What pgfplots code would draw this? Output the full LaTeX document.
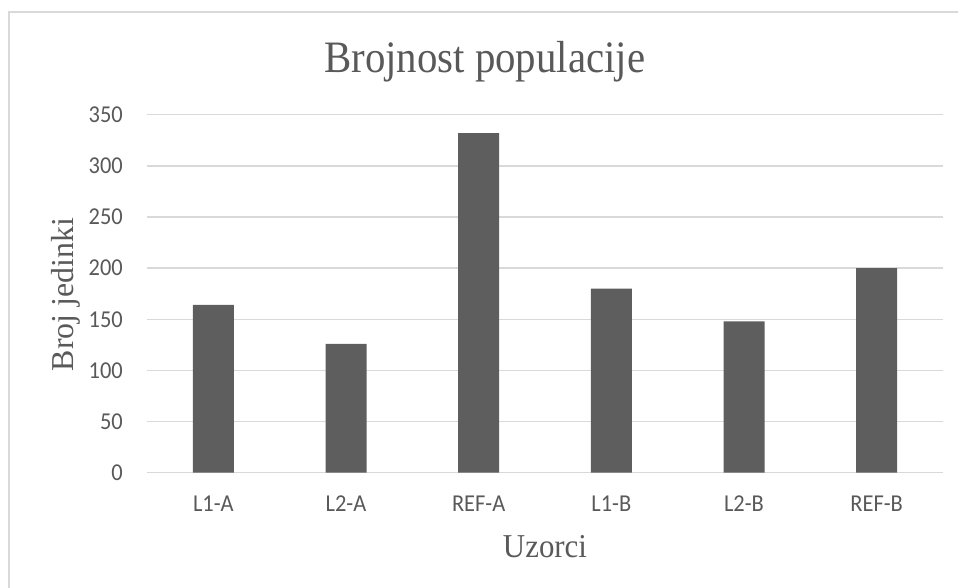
\documentclass[border=0pt]{standalone}
\usepackage{fontspec}
\setmainfont{Liberation Serif}
\newfontfamily\carlito{Carlito}
\usepackage{pgfplots}
\pgfplotsset{compat=1.18}

\definecolor{barfill}{HTML}{5E5E5E}
\definecolor{gridc}{HTML}{D9D9D9}
\definecolor{txt}{HTML}{595959}

\begin{document}
\begin{tikzpicture}
\useasboundingbox (0,0) rectangle (958bp,588bp);
% chart area frame (only top and left edges are inside the picture)
\draw[gridc, line width=1.5bp] (9bp,-20bp) -- (9bp,576bp) -- (980bp,576bp);

\begin{axis}[
    at={(147bp,115.3bp)}, anchor=south west,
    scale only axis,
    width=796bp, height=358bp,
    xmin=-0.5, xmax=5.5,
    ymin=0, ymax=350,
    ytick={0,50,...,350},
    xtick=data,
    xticklabels={L1-A, L2-A, REF-A, L1-B, L2-B, REF-B},
    axis line style={draw=none},
    major tick length=0pt,
    ymajorgrids,
    grid style={gridc, line width=1.5bp},
    /pgf/number format/assume math mode=true,
    tick label style={font=\fontsize{22.5}{26}\carlito, text=txt, inner sep=0pt, yscale=1.08},
    yticklabel style={anchor=east, xshift=-24bp},
    xticklabel style={anchor=north, yshift=-21bp},
    ybar, bar width=41bp,
]
\addplot[fill=barfill, draw=none] coordinates {
    (0,164) (1,126) (2,332) (3,180) (4,148) (5,200)
};
\end{axis}

\node[anchor=base, text=txt, inner sep=0pt] at (484.7bp,515.7bp)
    {\scalebox{1}[1.1]{\fontsize{41}{46}\selectfont Brojnost populacije}};
\node[anchor=base, rotate=90, text=txt, inner sep=0pt] at (73.3bp,293.5bp)
    {\fontsize{32}{36}\selectfont Broj jedinki};
\node[anchor=base, text=txt, inner sep=0pt] at (545bp,31bp)
    {\scalebox{1}[1.08]{\fontsize{31}{35}\selectfont Uzorci}};
\end{tikzpicture}
\end{document}
